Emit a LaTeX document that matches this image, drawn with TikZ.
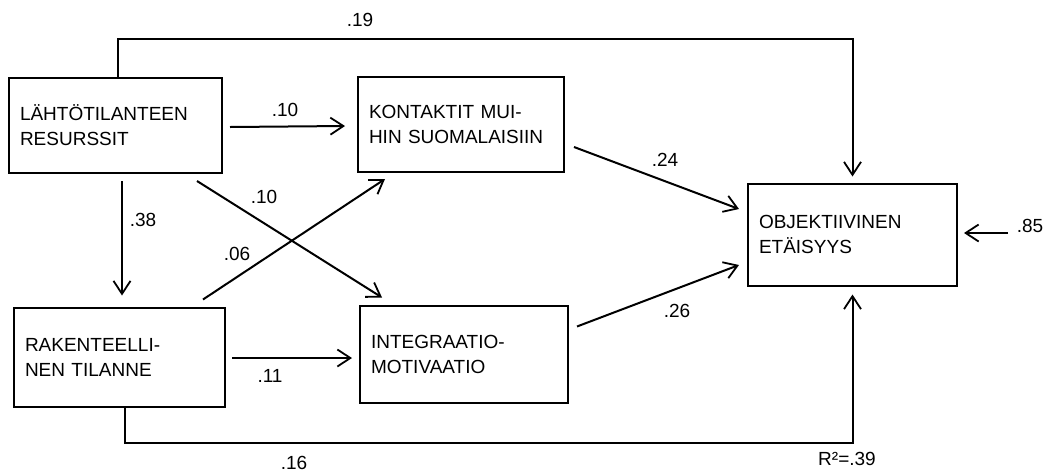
\documentclass[tikz,border=0pt]{standalone}
\usepackage{fontspec}
\setmainfont{Liberation Sans}
\usetikzlibrary{arrows.meta}
\begin{document}
\begin{tikzpicture}[x=1pt,y=-1pt,
  box/.style={draw, line width=2pt, align=left, inner xsep=11pt, inner ysep=0pt,
    font=\fontsize{19}{25}\selectfont},
  arr/.style={line width=2pt, -{Straight Barb[length=13pt,width=17pt,line width=1.8pt]}},
  lab/.style={font=\fontsize{19}{22}\selectfont, inner sep=0pt}]
\useasboundingbox (0,0) rectangle (1046,472);
% boxes
\node[box, text width=191pt, minimum height=95pt] (A) at (115.5,125.5) {LÄHTÖTILANTEEN\\RESURSSIT};
\node[box, text width=184pt, minimum height=95pt] (B) at (461,124.5) {KONTAKTIT MUI-\\HIN SUOMALAISIIN};
\node[box, text width=187pt, minimum height=102pt] (C) at (852.5,234.5) {OBJEKTIIVINEN\\ETÄISYYS};
\node[box, text width=189pt, minimum height=99pt] (D) at (119.5,357) {RAKENTEELLI-\\NEN TILANNE};
\node[box, text width=186pt, minimum height=97pt] (E) at (464,354) {INTEGRAATIO-\\MOTIVAATIO};
% helper coordinates
\coordinate (t1) at (118,39);
\coordinate (b1) at (125,443);
\coordinate (e85) at (1008,233);
% connectors
\draw[arr, shorten >=6pt] (A.north -| t1) -- (t1) -| (C.north);
\draw[arr, shorten >=8pt] (D.south -| b1) -- (b1) -| (C.south);
\draw[arr] ([xshift=7pt,yshift=-1.5pt]A.east) -- ([xshift=-12pt,yshift=-1.5pt]B.west);
\draw[arr] ([xshift=6.5pt,yshift=-7pt]A.south) -- ([xshift=2.5pt,yshift=11pt]D.north);
\draw[arr] ([xshift=6pt,yshift=-1pt]D.east) -- ([xshift=-7pt,yshift=-4pt]E.west);
\draw[arr] ([xshift=81.5pt,yshift=-7pt]A.south) -- ([xshift=-82pt,yshift=7pt]E.north);
\draw[arr] ([xshift=83.5pt,yshift=7pt]D.north) -- ([xshift=-76pt,yshift=-6pt]B.south);
\draw[arr] ([xshift=9pt,yshift=-22.5pt]B.east) -- ([xshift=-8pt,yshift=25.5pt]C.west);
\draw[arr] ([xshift=8pt,yshift=27.5pt]E.east) -- ([xshift=-8pt,yshift=-30.5pt]C.west);
\draw[arr] (e85) -- ([xshift=6pt]C.east |- e85);
% labels
\node[lab] (l19) at (360,20) {.19};
\node[lab] (l10a) at (285,110) {.10};
\node[lab] (l10b) at (264,197) {.10};
\node[lab] (l38) at (143,220) {.38};
\node[lab] (l06) at (237,254) {.06};
\node[lab] (l11) at (270,376) {.11};
\node[lab] (l24) at (665,160) {.24};
\node[lab] (l26) at (677,311) {.26};
\node[lab] (l85) at (1030,226) {.85};
\node[lab] (l16) at (294,463) {.16};
\node[lab] (lr2) at (847,459) {R²=.39};
\end{tikzpicture}
\end{document}
